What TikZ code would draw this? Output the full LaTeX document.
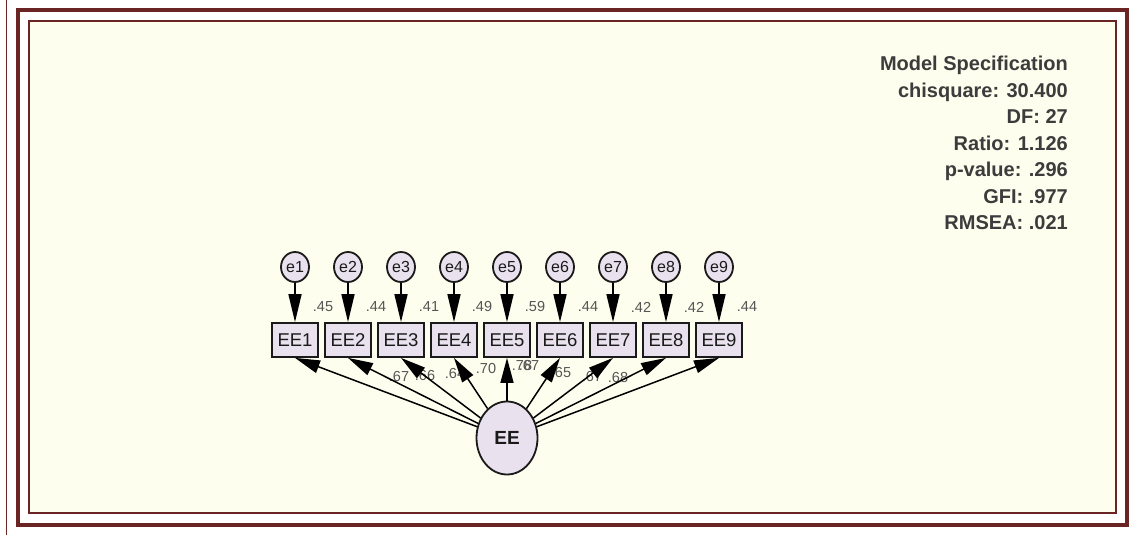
\documentclass[tikz,border=0pt]{standalone}
\usepackage{fontspec}
\setmainfont{Liberation Sans}
\usetikzlibrary{arrows.meta,shapes.geometric}
\definecolor{frame}{HTML}{6A2424}
\definecolor{paper}{HTML}{FEFEEE}
\definecolor{lav}{HTML}{E9E1EE}
\definecolor{ink}{HTML}{1A1A1A}
\definecolor{numgray}{HTML}{555555}
\begin{document}
\begin{tikzpicture}[x=1pt,y=-1pt,
  obs/.style={draw=ink, line width=1.8pt, fill=lav, minimum width=46pt, minimum height=34pt,
    inner sep=0pt, font=\fontsize{18.5}{18.5}\selectfont, text=ink},
  err/.style={ellipse, draw=ink, line width=1.8pt, fill=lav, minimum width=28pt, minimum height=30pt,
    inner sep=0pt, font=\fontsize{16}{16}\selectfont, text=ink},
  lat/.style={ellipse, draw=ink, line width=1.8pt, fill=lav, minimum width=61pt, minimum height=73pt,
    inner sep=0pt, font=\bfseries\fontsize{19}{19}\selectfont, text=ink},
  coef/.style={font=\fontsize{14.5}{14.5}\selectfont, text=numgray, inner sep=0pt},
  errpath/.style={line width=1.5pt, draw=black, -{Triangle[length=28pt,width=13pt]}},
  loadpath/.style={line width=1.5pt, draw=black, -{Triangle[length=25pt,width=13pt]}},
  spec/.style={anchor=base east, inner sep=0pt, font=\bfseries\fontsize{20}{20}\selectfont, text=ink!85}
]
\useasboundingbox (0,0) rectangle (1132,535);

% page frame
\draw[frame, line width=1.5pt] (6.5,0) -- (6.5,535);
\draw[draw=frame, line width=4pt] (18,10) rectangle (1127,525);
\draw[draw=frame, fill=paper, line width=2pt] (29,21) rectangle (1116,513);

% fit summary
\foreach \k/\t in {0/Model Specification, 1/chisquare: 30.400, 2/DF: 27, 3/Ratio: 1.126,
                   4/p-value: .296, 5/GFI: .977, 6/RMSEA: .021} {
  \node[spec] (spec\k) at (1068,{70.5+26.5*\k}) {\t};
}

% indicators and their error terms
\foreach \i in {1,...,9} {
  \pgfmathsetmacro\xx{295+53*(\i-1)}
  \node[obs] (EE\i) at (\xx,340) {EE\i};
  \node[err] (e\i) at (\xx,267) {e\i};
}
\node[lat] (EE) at (507,438) {EE};

% squared multiple correlations
\foreach \i/\v in {1/.45, 2/.44, 3/.41, 4/.49, 5/.59, 6/.44, 7/.42, 8/.42, 9/.44} {
  \pgfmathsetmacro\xx{295+53*(\i-1)+28}
  \node[coef] (r\i) at (\xx,307) {\v};
}

% standardized loadings (two of them print on top of each other)
\node[coef] (l1) at (399,377) {.67};
\node[coef] (l2) at (425,376) {.66};
\node[coef] (l3) at (455,374) {.64};
\node[coef] (l4) at (486,369) {.70};
\node[coef] (l5) at (522,366) {.78};
\node[coef] (l6) at (529,366) {.67};
\node[coef] (l7) at (561,373) {.65};
\node[coef] (l8) at (592,377) {.67};
\node[coef] (l9) at (618,378) {.68};

% regression paths
\foreach \i in {1,...,9} {
  \draw[errpath] (e\i) -- (EE\i);
  \draw[loadpath] (EE) -- (EE\i.south);
}
\end{tikzpicture}
\end{document}
